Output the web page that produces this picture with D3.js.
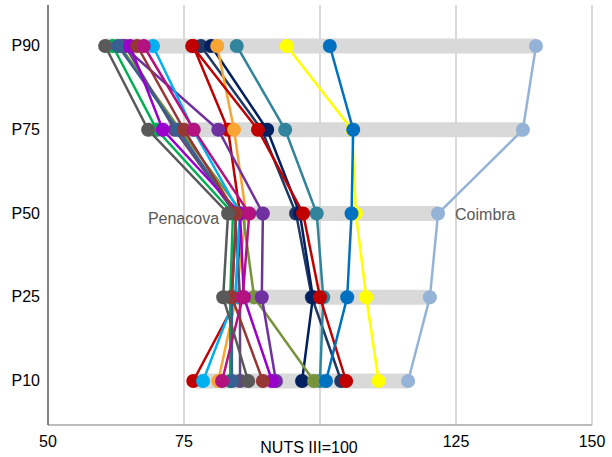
<!DOCTYPE html>
<html><head><meta charset="utf-8">
<script src="https://cdn.jsdelivr.net/npm/d3@7"></script>
<style>body{margin:0;background:#fff}svg{display:block}</style>
</head><body>
<svg id="c" width="612" height="457"></svg>
<script>
const categories = ["P90","P75","P50","P25","P10"];
const xTicks = [50,75,100,125,150];
const xTickLabels = ["50","75","NUTS III=100","125","150"];
const seriesNames = ["S11","S12","S13","S14","S16","S15","S9","S8","S10","S7","S2","S3","S4","S5","S6","Penacova","S17","S18","Coimbra"];
const seriesColors = ["#c00000","#1f3864","#002060","#f9a533","#31849b","#c00000","#77933c","#604a7b","#7030a0","#00b0f0","#00b050","#376092","#9900cc","#953735","#b3127f","#595959","#ffff00","#0070c0","#95b3d7"];
const seriesValues = [
  [76.7, 83.1, 85.3, 84.9, 76.7],
  [78.1, 89.3, 95.6, 98.5, 103.9],
  [80.0, 90.3, 96.3, 98.7, 96.7],
  [81.1, 84.2, 86.4, 84.6, 81.3],
  [84.7, 93.6, 99.4, 100.6, 100.0],
  [76.5, 88.6, 96.9, 100.0, 104.8],
  [63.2, 74.3, 85.8, 87.9, 98.9],
  [64.2, 73.3, 84.4, 85.3, 85.3],
  [63.8, 81.3, 89.5, 89.3, 91.9],
  [69.3, 76.7, 85.3, 84.4, 78.5],
  [61.9, 70.0, 84.0, 83.5, 83.5],
  [62.9, 73.9, 84.6, 83.8, 83.8],
  [65.1, 71.1, 85.3, 86.0, 91.2],
  [66.4, 75.0, 84.6, 83.8, 89.5],
  [67.6, 76.8, 87.0, 85.8, 82.0],
  [60.5, 68.4, 83.1, 82.2, 86.8],
  [93.9, 105.9, 106.6, 108.5, 110.8],
  [101.8, 106.1, 105.8, 105.0, 101.1],
  [139.7, 137.3, 121.7, 120.2, 116.2]
];

const svg = d3.select("#c");
const x = d3.scaleLinear().domain([50,150]).range([48,592]);
const y = d3.scalePoint().domain(categories).range([46,381]);
const plotTop = 5, plotBottom = 425;
const font = "'Liberation Sans', Arial, sans-serif";
const fs = 16;

// gridlines
svg.append("g").selectAll("line").data(xTicks.slice(1)).join("line")
  .attr("x1", d=>x(d)).attr("x2", d=>x(d)).attr("y1", plotTop).attr("y2", plotBottom)
  .attr("stroke", "#d9d9d9").attr("stroke-width", 2);
// bottom frame
svg.append("line").attr("x1", x(50)).attr("x2", x(150)).attr("y1", plotBottom).attr("y2", plotBottom)
  .attr("stroke", "#a6a6a6").attr("stroke-width", 1.5);
// left axis
svg.append("line").attr("x1", x(50)).attr("x2", x(50)).attr("y1", plotTop).attr("y2", plotBottom)
  .attr("stroke", "#595959").attr("stroke-width", 1.5);

// bands
const bands = categories.map((c,i)=>{
  const vals = seriesValues.map(s=>s[i]);
  return {c, min:d3.min(vals), max:d3.max(vals)};
});
svg.append("g").selectAll("line").data(bands).join("line")
  .attr("x1", d=>x(d.min)).attr("x2", d=>x(d.max))
  .attr("y1", d=>y(d.c)).attr("y2", d=>y(d.c))
  .attr("stroke", "#d9d9d9").attr("stroke-width", 15);

// series
const line = d3.line().x(d=>x(d.v)).y(d=>y(d.c));
seriesValues.forEach((vals, si)=>{
  const pts = vals.map((v,i)=>({v, c:categories[i]}));
  const g = svg.append("g");
  g.append("path").attr("d", line(pts)).attr("fill","none")
    .attr("stroke", seriesColors[si]).attr("stroke-width", 2.5);
  g.selectAll("circle").data(pts).join("circle")
    .attr("cx", d=>x(d.v)).attr("cy", d=>y(d.c)).attr("r", 7)
    .attr("fill", seriesColors[si]);
});

// y axis labels
svg.append("g").selectAll("text").data(categories).join("text")
  .attr("x", 40).attr("y", d=>y(d)+5).attr("text-anchor","end")
  .attr("font-family", font).attr("font-size", fs).attr("fill","#000")
  .text(d=>d);

// x tick labels
svg.append("g").selectAll("text").data(xTicks).join("text")
  .attr("x", (d,i)=> i===2 ? x(d)-11 : x(d))
  .attr("y", (d,i)=> i===2 ? 453 : 447)
  .attr("text-anchor","middle")
  .attr("font-family", font).attr("font-size", fs).attr("fill","#000")
  .text((d,i)=>xTickLabels[i]);

// series labels
const pIdx = seriesNames.indexOf("Penacova"), cIdx = seriesNames.indexOf("Coimbra");
svg.append("text").attr("x", x(seriesValues[pIdx][2]) - 9).attr("y", y("P50")+10)
  .attr("text-anchor","end").attr("font-family", font).attr("font-size", fs)
  .attr("fill","#595959").text("Penacova");
svg.append("text").attr("x", x(seriesValues[cIdx][2]) + 17).attr("y", y("P50")+6)
  .attr("text-anchor","start").attr("font-family", font).attr("font-size", fs)
  .attr("fill","#595959").text("Coimbra");
</script>
</body></html>
